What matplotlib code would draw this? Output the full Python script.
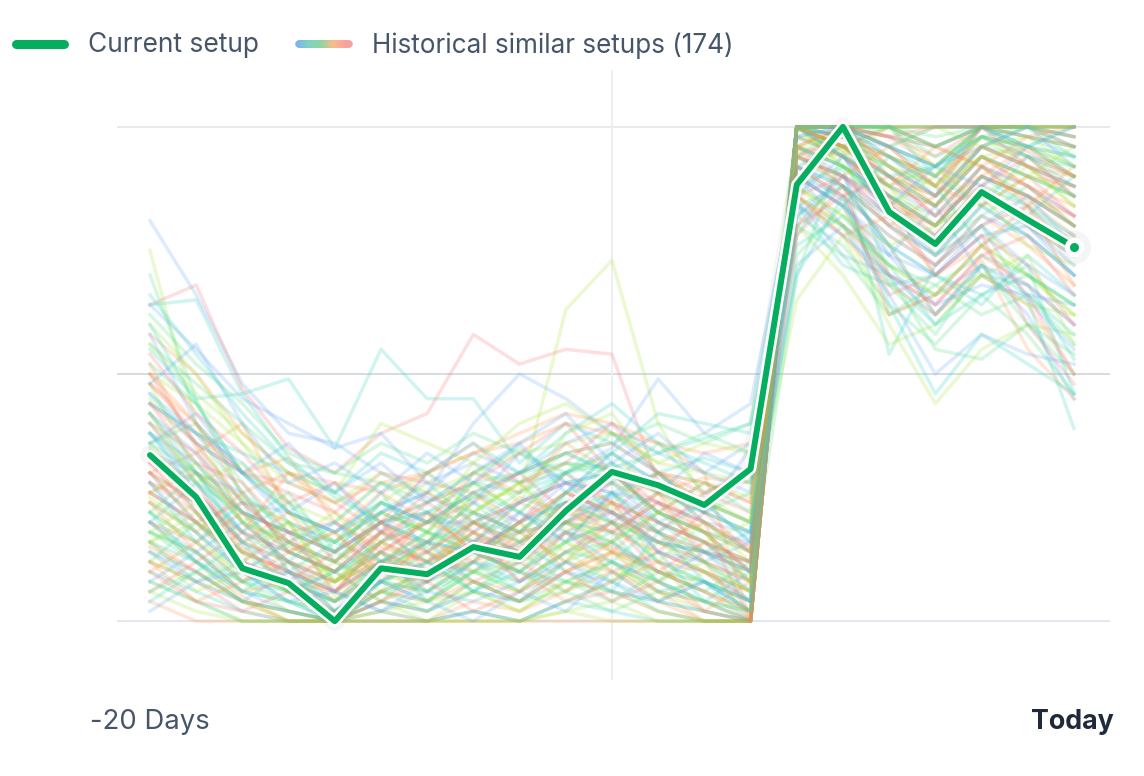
import matplotlib.pyplot as plt
import matplotlib.patheffects as pe
from matplotlib.collections import LineCollection
from matplotlib.colors import LinearSegmentedColormap
import numpy as np

plt.rcParams['font.family'] = ['Inter', 'DejaVu Sans']

days = list(range(-20, 1))  # -20 days .. today

# current setup, normalised 0..1
current = [0.336, 0.251, 0.107, 0.077, 0.0, 0.107, 0.095, 0.150, 0.130, 0.223, 0.302,
           0.275, 0.235, 0.308, 0.883, 1.0, 0.828, 0.763, 0.868, 0.812, 0.757]

# historical similar setups (percent), estimated by eye
hist = [
    [81, 66, 48, 38, 36, 30, 25, 22, 18, 20, 25, 30, 22, 35, 85, 74, 70, 66, 72, 62, 45],
    [64, 65, 46, 49, 35, 55, 45, 45, 32, 40, 36, 30, 33, 30, 78, 92, 54, 72, 80, 65, 39],
    [75, 40, 20, 12, 10, 22, 18, 25, 26, 63, 73, 40, 25, 20, 65, 78, 60, 44, 55, 60, 58],
    [52, 35, 22, 10, 8, 12, 10, 20, 15, 22, 20, 18, 12, 8, 100, 95, 85, 80, 92, 85, 78],
    [64, 68, 47, 35, 30, 38, 42, 58, 52, 55, 54, 28, 20, 15, 80, 90, 85, 70, 78, 72, 60],
    [70, 45, 25, 15, 12, 20, 15, 30, 35, 28, 30, 22, 18, 10, 70, 95, 70, 55, 53, 60, 50],
    [64, 55, 45, 40, 35, 38, 28, 32, 28, 30, 35, 49, 38, 44, 90, 80, 74, 84, 70, 65, 55],
    [55, 45, 46, 33, 25, 20, 22, 25, 30, 32, 31, 34, 37, 40, 92, 85, 69, 60, 70, 68, 53],
    [48, 30, 25, 20, 5, 18, 20, 32, 24, 38, 42, 30, 28, 25, 100, 92, 88, 74, 80, 70, 62],
    [48, 40, 30, 33, 20, 15, 12, 18, 25, 22, 30, 26, 29, 28, 95, 88, 76, 62, 73, 55, 45],
    [40, 28, 15, 8, 4, 10, 14, 8, 12, 18, 15, 10, 6, 0, 100, 100, 92, 86, 100, 95, 90],
    [35, 22, 12, 6, 0, 6, 10, 14, 10, 16, 20, 12, 8, 0, 100, 96, 90, 84, 96, 92, 88],
    [42, 30, 18, 14, 10, 18, 12, 20, 16, 24, 28, 20, 16, 10, 96, 90, 82, 78, 88, 80, 72],
    [30, 20, 10, 4, 0, 8, 4, 12, 6, 14, 18, 8, 4, 0, 100, 100, 96, 90, 100, 98, 94],
    [25, 18, 8, 2, 0, 4, 0, 6, 2, 8, 12, 6, 2, 0, 100, 98, 94, 88, 98, 96, 92],
    [20, 12, 5, 0, 0, 4, 2, 8, 4, 10, 14, 6, 0, 0, 100, 100, 98, 92, 100, 100, 96],
    [28, 24, 14, 10, 6, 12, 8, 16, 12, 20, 24, 14, 10, 6, 98, 94, 86, 80, 90, 86, 80],
    [33, 26, 16, 12, 8, 14, 10, 18, 14, 22, 26, 18, 14, 8, 94, 88, 80, 74, 84, 78, 70],
    [38, 32, 22, 18, 14, 20, 16, 24, 20, 28, 30, 22, 18, 16, 90, 84, 76, 70, 80, 72, 66],
    [22, 16, 8, 6, 2, 8, 6, 12, 10, 16, 20, 12, 8, 4, 100, 94, 88, 84, 94, 90, 86],
    [45, 36, 24, 20, 16, 22, 18, 28, 22, 30, 34, 26, 22, 18, 88, 82, 72, 66, 76, 70, 64],
    [15, 10, 4, 0, 0, 2, 0, 4, 2, 6, 10, 4, 0, 0, 100, 100, 100, 96, 100, 100, 100],
    [12, 8, 2, 0, 0, 0, 0, 2, 0, 4, 6, 2, 0, 0, 100, 100, 98, 94, 100, 100, 98],
    [18, 14, 6, 4, 2, 6, 4, 10, 6, 12, 16, 8, 4, 2, 100, 96, 92, 86, 96, 94, 90],
    [26, 20, 12, 8, 4, 10, 8, 14, 10, 18, 22, 14, 10, 4, 100, 98, 92, 86, 96, 92, 88],
    [10, 6, 2, 0, 0, 2, 0, 2, 0, 4, 8, 2, 0, 0, 100, 100, 100, 100, 100, 100, 100],
    [8, 4, 0, 0, 0, 0, 0, 0, 0, 2, 4, 0, 0, 0, 100, 100, 96, 92, 100, 98, 96],
    [30, 34, 40, 22, 18, 26, 20, 16, 24, 20, 18, 24, 20, 14, 92, 86, 78, 72, 82, 76, 68],
    [44, 36, 30, 28, 24, 18, 22, 14, 20, 26, 22, 30, 24, 20, 86, 80, 70, 64, 74, 68, 60],
    [36, 40, 28, 16, 12, 20, 24, 30, 28, 34, 30, 22, 16, 12, 96, 92, 84, 78, 88, 84, 76],
    [34, 30, 26, 14, 10, 16, 22, 18, 24, 28, 26, 20, 24, 16, 98, 94, 88, 82, 92, 88, 82],
    [46, 38, 26, 18, 14, 24, 20, 26, 30, 34, 30, 28, 20, 14, 84, 88, 76, 62, 72, 66, 58],
    [50, 44, 36, 24, 20, 28, 26, 30, 34, 36, 38, 32, 30, 28, 88, 80, 72, 66, 76, 70, 62],
    [58, 50, 38, 30, 28, 26, 30, 34, 36, 40, 38, 36, 34, 36, 86, 78, 68, 62, 70, 64, 50],
    [40, 34, 20, 12, 8, 14, 20, 24, 30, 22, 28, 24, 18, 10, 100, 98, 94, 88, 98, 94, 90],
    [24, 18, 10, 6, 4, 12, 16, 20, 18, 24, 20, 16, 12, 6, 100, 100, 94, 90, 100, 96, 92],
    [20, 14, 6, 2, 0, 8, 12, 10, 14, 18, 16, 10, 8, 2, 100, 98, 96, 92, 98, 96, 94],
    [16, 12, 6, 4, 0, 6, 8, 12, 8, 14, 12, 8, 4, 0, 100, 100, 96, 92, 100, 98, 96],
    [22, 16, 10, 8, 4, 10, 6, 14, 10, 18, 14, 10, 8, 4, 98, 96, 90, 86, 94, 90, 86],
    [28, 22, 14, 10, 6, 16, 12, 18, 14, 22, 18, 14, 10, 6, 96, 92, 86, 80, 90, 86, 82],
    [32, 26, 18, 14, 10, 18, 16, 22, 18, 26, 22, 18, 14, 10, 94, 90, 82, 76, 86, 82, 76],
    [18, 12, 4, 2, 0, 4, 2, 6, 4, 8, 6, 4, 2, 0, 100, 100, 100, 98, 100, 100, 100],
    [14, 10, 4, 2, 0, 4, 2, 6, 4, 10, 8, 4, 2, 0, 100, 100, 98, 96, 100, 100, 98],
    [34, 28, 22, 18, 16, 12, 18, 16, 14, 20, 18, 16, 14, 12, 92, 88, 82, 76, 86, 80, 74],
    [12, 8, 4, 0, 0, 2, 4, 6, 2, 8, 6, 2, 0, 0, 100, 100, 100, 100, 100, 100, 100],
    [16, 10, 4, 2, 0, 6, 4, 8, 6, 12, 10, 6, 4, 0, 100, 100, 98, 96, 100, 100, 98],
    [26, 20, 12, 8, 6, 14, 10, 12, 16, 20, 14, 12, 10, 4, 100, 96, 90, 86, 96, 92, 86],
    [38, 30, 20, 16, 12, 22, 18, 14, 20, 24, 20, 16, 14, 10, 96, 92, 86, 82, 92, 86, 80],
    [42, 34, 24, 22, 18, 24, 20, 20, 24, 28, 26, 24, 20, 18, 90, 86, 78, 72, 82, 78, 70],
    [8, 4, 0, 0, 0, 0, 0, 2, 0, 4, 2, 0, 0, 0, 100, 100, 100, 100, 100, 100, 100],
    [6, 2, 0, 0, 0, 0, 0, 0, 0, 2, 0, 0, 0, 0, 100, 100, 100, 100, 100, 100, 100],
    [4, 0, 0, 0, 0, 0, 0, 0, 0, 0, 0, 0, 0, 0, 100, 100, 100, 100, 100, 100, 100],
    [48, 38, 30, 26, 22, 30, 28, 26, 30, 34, 36, 30, 28, 24, 90, 84, 66, 70, 78, 60, 48],
    [56, 48, 40, 32, 30, 28, 24, 28, 30, 34, 36, 40, 36, 40, 82, 76, 64, 56, 66, 58, 46],
    [44, 38, 32, 22, 18, 22, 26, 34, 30, 36, 40, 34, 30, 26, 92, 88, 80, 74, 84, 78, 70],
    [36, 30, 22, 18, 14, 20, 22, 28, 26, 30, 32, 26, 22, 18, 96, 92, 86, 80, 90, 86, 80],
    [60, 50, 36, 28, 24, 30, 26, 22, 28, 32, 30, 26, 24, 20, 80, 70, 56, 60, 70, 64, 62],
    [26, 20, 14, 10, 6, 12, 14, 20, 16, 22, 24, 20, 16, 12, 96, 94, 88, 84, 94, 88, 84],
    [30, 24, 16, 12, 8, 16, 12, 16, 18, 20, 22, 16, 12, 8, 94, 90, 84, 80, 90, 86, 80],
    [18, 14, 8, 4, 2, 8, 6, 10, 8, 14, 16, 10, 6, 2, 100, 98, 94, 90, 98, 96, 94],
    [58, 40, 30, 20, 16, 22, 26, 40, 50, 45, 38, 30, 22, 18, 72, 80, 66, 50, 58, 54, 52],
    [44, 38, 34, 30, 26, 20, 16, 14, 18, 26, 34, 42, 40, 38, 84, 72, 68, 70, 66, 72, 46],
    [56, 46, 38, 30, 26, 40, 36, 32, 40, 44, 38, 32, 36, 34, 86, 80, 62, 66, 70, 74, 56],
    [30, 24, 18, 30, 24, 28, 30, 34, 38, 42, 40, 36, 30, 0, 100, 94, 86, 78, 88, 80, 74],
    [20, 16, 22, 18, 14, 20, 24, 28, 34, 40, 30, 24, 20, 0, 100, 96, 90, 84, 94, 90, 82],
    [12, 20, 14, 8, 4, 12, 18, 14, 10, 6, 12, 20, 16, 8, 100, 96, 88, 92, 100, 94, 86],
    [8, 14, 20, 12, 6, 2, 8, 16, 22, 18, 12, 8, 14, 6, 98, 100, 94, 86, 96, 100, 92],
    [20, 28, 18, 24, 12, 8, 14, 6, 12, 20, 26, 18, 8, 4, 92, 96, 100, 90, 84, 94, 88],
    [14, 6, 10, 16, 8, 14, 6, 12, 20, 14, 8, 16, 10, 2, 100, 92, 84, 90, 98, 92, 84],
    [24, 18, 26, 14, 10, 4, 10, 18, 12, 6, 14, 22, 18, 10, 96, 100, 92, 84, 90, 96, 90],
    [32, 22, 12, 18, 6, 16, 24, 18, 8, 14, 20, 10, 16, 8, 94, 98, 90, 82, 88, 94, 86],
    [40, 30, 20, 26, 14, 24, 18, 28, 22, 16, 26, 30, 22, 26, 88, 92, 84, 76, 82, 88, 80],
    [36, 42, 30, 22, 28, 18, 30, 24, 34, 28, 20, 26, 34, 30, 86, 94, 82, 74, 80, 86, 76],
    [28, 16, 24, 10, 16, 26, 14, 22, 12, 26, 32, 20, 14, 18, 90, 84, 94, 88, 76, 82, 90],
    [18, 24, 12, 20, 8, 18, 12, 26, 18, 12, 24, 12, 20, 12, 98, 94, 100, 92, 84, 90, 96],
    [10, 16, 8, 14, 18, 10, 22, 14, 20, 10, 16, 26, 12, 0, 100, 96, 88, 96, 92, 84, 92],
    [6, 12, 18, 8, 14, 20, 10, 16, 8, 18, 10, 14, 22, 14, 96, 100, 96, 88, 100, 92, 88],
    [16, 8, 12, 6, 10, 4, 12, 6, 14, 8, 4, 10, 6, 12, 100, 98, 100, 94, 98, 100, 94],
    [2, 8, 4, 10, 2, 8, 4, 0, 6, 2, 10, 4, 8, 2, 100, 100, 96, 100, 100, 96, 100],
    [22, 12, 6, 12, 2, 10, 16, 8, 4, 12, 8, 14, 4, 10, 94, 90, 86, 80, 90, 84, 78],
    [26, 32, 20, 16, 22, 12, 8, 20, 16, 24, 14, 8, 16, 20, 90, 96, 88, 80, 86, 92, 84],
    [34, 26, 16, 22, 12, 20, 14, 10, 18, 12, 20, 26, 18, 14, 96, 88, 80, 86, 94, 88, 80],
    [44, 32, 28, 18, 20, 14, 20, 26, 20, 30, 24, 18, 26, 22, 86, 90, 80, 72, 80, 84, 74],
    [52, 44, 30, 24, 16, 22, 28, 20, 26, 32, 28, 36, 26, 30, 84, 80, 72, 68, 74, 70, 64],
    [46, 36, 30, 36, 26, 32, 24, 30, 36, 26, 34, 28, 22, 32, 90, 84, 74, 70, 78, 80, 70],
    [38, 28, 18, 12, 20, 28, 22, 16, 24, 30, 22, 18, 24, 16, 82, 88, 76, 70, 64, 74, 66],
    [16, 22, 10, 6, 12, 6, 18, 10, 6, 16, 12, 4, 10, 6, 100, 100, 96, 100, 96, 100, 96],
    [12, 4, 8, 12, 4, 14, 8, 16, 10, 4, 8, 12, 2, 8, 100, 96, 100, 96, 92, 98, 100],
    [30, 20, 24, 16, 10, 18, 26, 20, 14, 24, 18, 24, 14, 12, 92, 86, 90, 82, 92, 88, 82],
    [22, 30, 16, 20, 14, 10, 16, 24, 16, 20, 16, 22, 28, 22, 94, 100, 90, 84, 94, 90, 86],
    [28, 18, 10, 16, 20, 12, 6, 12, 22, 16, 26, 14, 12, 16, 100, 94, 84, 92, 88, 96, 90],
    [4, 10, 16, 6, 10, 14, 4, 10, 16, 10, 6, 18, 12, 4, 100, 100, 100, 96, 100, 96, 100],
    [42, 28, 32, 22, 16, 24, 30, 22, 28, 18, 24, 30, 24, 20, 88, 82, 76, 80, 86, 76, 72],
    [50, 40, 26, 30, 22, 16, 20, 30, 26, 36, 30, 22, 28, 24, 86, 78, 82, 70, 76, 84, 68],
    [54, 42, 34, 24, 28, 20, 30, 36, 28, 32, 40, 30, 26, 30, 80, 86, 70, 64, 74, 78, 66],
    [62, 52, 44, 34, 30, 36, 32, 38, 34, 30, 38, 34, 38, 34, 80, 74, 62, 68, 62, 66, 56],
    [48, 56, 40, 28, 32, 26, 34, 28, 36, 42, 32, 38, 30, 36, 84, 78, 70, 62, 72, 68, 60],
    [66, 54, 42, 32, 26, 34, 30, 36, 30, 38, 44, 36, 32, 28, 76, 82, 72, 60, 66, 70, 64],
    [36, 26, 14, 20, 8, 16, 10, 22, 28, 20, 16, 22, 18, 8, 100, 96, 92, 88, 96, 98, 92],
    [26, 30, 22, 14, 18, 8, 16, 12, 20, 26, 22, 16, 20, 14, 94, 90, 96, 88, 84, 90, 88],
    [10, 4, 2, 6, 0, 4, 8, 2, 6, 10, 4, 8, 2, 0, 100, 100, 98, 100, 100, 98, 96],
    [6, 10, 4, 2, 0, 6, 2, 8, 4, 6, 2, 6, 4, 2, 100, 100, 100, 96, 100, 100, 98],
    [14, 8, 10, 4, 6, 2, 6, 4, 8, 12, 6, 4, 8, 4, 98, 100, 96, 92, 96, 100, 96],
    [20, 12, 8, 10, 4, 8, 12, 6, 10, 8, 12, 6, 8, 2, 100, 94, 90, 92, 98, 94, 92],
    [16, 20, 12, 6, 8, 12, 4, 10, 12, 16, 10, 8, 12, 6, 96, 98, 92, 88, 94, 96, 90],
    [24, 14, 6, 8, 2, 6, 10, 8, 4, 10, 14, 10, 6, 2, 100, 96, 94, 90, 96, 92, 90],
    [50, 36, 24, 16, 12, 18, 14, 20, 24, 28, 24, 20, 16, 12, 78, 88, 62, 66, 76, 66, 50],
    [42, 32, 22, 14, 10, 16, 20, 22, 18, 26, 28, 22, 18, 14, 74, 84, 68, 58, 72, 60, 54],
    [38, 26, 16, 10, 6, 12, 16, 14, 20, 24, 22, 16, 14, 10, 82, 90, 74, 64, 68, 66, 64],
    [60, 44, 30, 22, 18, 24, 20, 26, 22, 30, 34, 28, 24, 20, 70, 86, 64, 46, 58, 52, 46],
]

hist_colors = ['#60a5fa', '#2dd4bf', '#a3e635', '#fb923c', '#f87171', '#4ade80']
green = '#05ad5e'

fig = plt.figure(figsize=(11.44, 7.76), dpi=100)
ax = fig.add_axes([117 / 1144, 1 - 680 / 776, 993 / 1144, 610 / 776])
x = np.arange(len(days))

# grid
for yv, c in [(0, '#e4e4f0'), (0.5, '#d3d9e2'), (1, '#e5e7eb')]:
    ax.axhline(yv, color=c, lw=1.3, zorder=0)
ax.axvline(10, color='#eceef2', lw=1.3, zorder=0)

for i, row in enumerate(hist):
    ax.plot(x, np.array(row) / 100, color=hist_colors[i % len(hist_colors)],
            lw=2.5, alpha=0.22, zorder=1)

ax.plot(x, current, color=green, lw=4.3, zorder=5, solid_capstyle='round',
        path_effects=[pe.Stroke(linewidth=14, foreground='black', alpha=0.035),
                      pe.Stroke(linewidth=8, foreground='white'), pe.Normal()])
ax.plot(x[-1], current[-1], 'o', ms=24, color='black', alpha=0.04, mew=0, zorder=6)
ax.plot(x[-1], current[-1], 'o', ms=14, color='white', mew=0, zorder=7)
ax.plot(x[-1], current[-1], 'o', ms=6.5, color=green, mew=0, zorder=8)

ax.set_xlim(-0.714, 20.78)
ax.set_ylim(-0.119, 1.115)
ax.axis('off')

# x labels
fig.text(90 / 1144, 1 - 722 / 776, '-20 Days', fontsize=19.8, color='#475569', va='center', ha='left')
fig.text(1114 / 1144, 1 - 722 / 776, 'Today', fontsize=19.3, color='#1e293b', fontweight='bold',
         va='center', ha='right')

# legend
ly = 1 - 44 / 776
ty = 1 - 45.5 / 776
fig.add_artist(plt.Line2D([16 / 1144, 64 / 1144], [ly, ly], color=green, lw=6.5,
                          solid_capstyle='round', transform=fig.transFigure))
fig.text(88 / 1144, ty, 'Current setup', fontsize=19, color='#475569', va='center', ha='left')

cmap = LinearSegmentedColormap.from_list('hist', ['#7fb0f2', '#7dd6c0', '#8fd4a4', '#fbbd88', '#f8a0a0'])
gx = np.linspace(299 / 1144, 349 / 1144, 40)
segs = [[(gx[k], ly), (gx[k + 1], ly)] for k in range(len(gx) - 1)]
lc = LineCollection(segs, colors=cmap(np.linspace(0, 1, len(segs))), lw=5.5,
                    capstyle='round', transform=fig.transFigure)
fig.add_artist(lc)
fig.text(372 / 1144, ty, 'Historical similar setups (174)', fontsize=18.8, color='#475569',
         va='center', ha='left')

fig.savefig('out.png', dpi=100, facecolor='white')
